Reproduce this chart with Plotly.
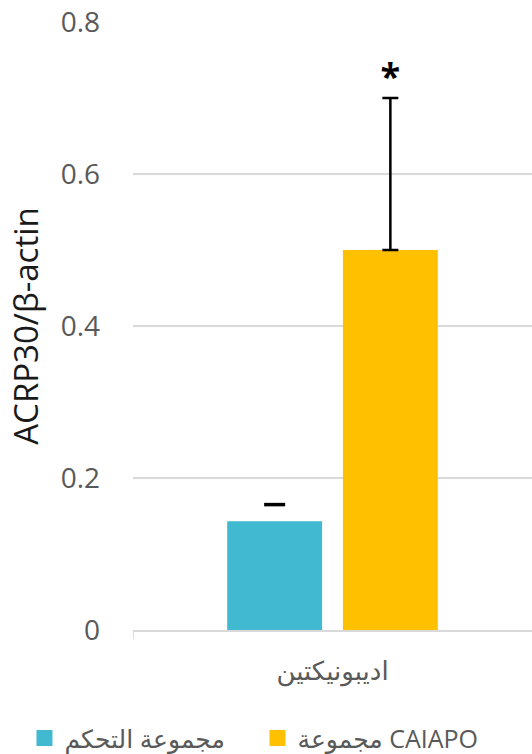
import plotly.graph_objects as go

categories = ["اديبونيكتين"]
series_names = ["مجموعة التحكم", "مجموعة CAIAPO"]
control_values = [0.143]
control_err = [0.022]
caiapo_values = [0.5]
caiapo_err = [0.2]
y_ticks = [0, 0.2, 0.4, 0.6, 0.8]
y_tick_labels = ["0", "0.2", "0.4", "0.6", "0.8"]

cyan = "#40B9D1"
orange = "#FFC000"
font_family = "Open Sans, DejaVu Sans, sans-serif"

fig = go.Figure()
fig.add_trace(go.Bar(
    x=categories, y=control_values, name=series_names[0],
    marker=dict(color=cyan, line=dict(width=0)),
    offsetgroup="a", showlegend=False,
))
fig.add_trace(go.Bar(
    x=categories, y=caiapo_values, name=series_names[1],
    marker=dict(color=orange, line=dict(width=0)),
    error_y=dict(type="data", array=caiapo_err, symmetric=False, arrayminus=[0],
                 color="black", thickness=2.5, width=8),
    offsetgroup="b", showlegend=False,
))
# cap of the control error bar (drawn without stem, as in the original)
fig.add_trace(go.Scatter(
    x=categories, y=[v + e for v, e in zip(control_values, control_err)],
    mode="markers", marker=dict(symbol="line-ew", size=15, line=dict(color="black", width=3.5)),
    offsetgroup="a", showlegend=False, hoverinfo="skip",
))
fig.add_trace(go.Scatter(
    x=categories, y=[v + e for v, e in zip(caiapo_values, caiapo_err)],
    mode="text", text=["<b>*</b>"], textposition="top center",
    textfont=dict(size=36, color="black", family=font_family),
    offsetgroup="b", showlegend=False, hoverinfo="skip",
))
# legend entries with larger square swatches
for name, col in zip(series_names, [cyan, orange]):
    fig.add_trace(go.Scatter(
        x=[None], y=[None], mode="markers", name=name,
        marker=dict(symbol="square", size=19, color=col), showlegend=True,
    ))

fig.update_layout(
    width=532, height=754,
    margin=dict(l=133, r=0, t=22, b=124, autoexpand=False),
    paper_bgcolor="white", plot_bgcolor="white",
    barmode="group", scattermode="group",
    bargap=0.42, bargroupgap=0.18,
    font=dict(family=font_family, color="#595959", size=26),
    legend=dict(orientation="h", x=-0.272, xanchor="left",
                y=-0.178, yanchor="middle",
                font=dict(size=25, color="#595959"), traceorder="normal",
                itemwidth=30, entrywidth=188, entrywidthmode="pixels"),
    yaxis=dict(range=[0, 0.8], tickvals=y_ticks, ticktext=y_tick_labels,
               showgrid=True, gridcolor="#d9d9d9", gridwidth=1.5,
               zeroline=False, showline=False, ticks="", ticklabelstandoff=32,
               tickfont=dict(size=28, color="#595959"),
               title=dict(text="ACRP30/β-actin", standoff=12,
                          font=dict(size=33, color="#1a1a1a"))),
    xaxis=dict(showline=True, linecolor="#d9d9d9", linewidth=1.5,
               ticks="outside", tickson="boundaries", ticklen=7, tickcolor="#d9d9d9",
               ticklabelstandoff=17,
               tickfont=dict(size=26, color="#595959"), showgrid=False),
)

fig.write_html("out.html")
